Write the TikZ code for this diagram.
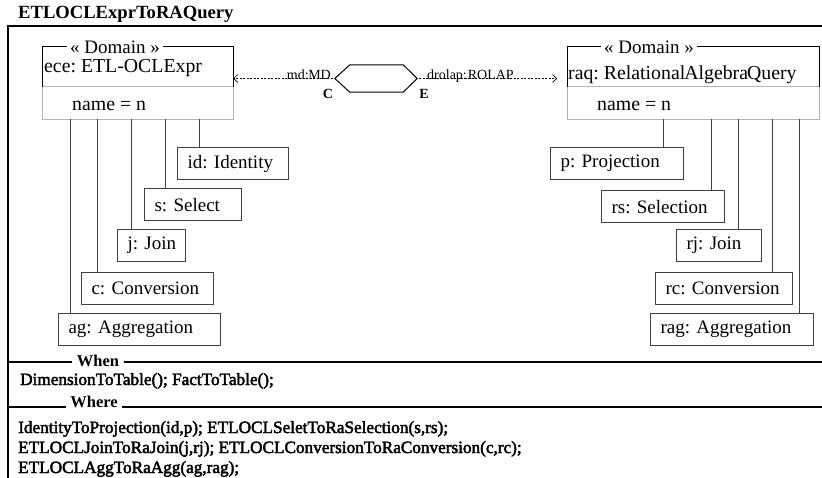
\documentclass[tikz,border=0pt]{standalone}
\usepackage{fontspec}
\setmainfont{Liberation Serif}
\newfontfamily\heavyfont[FakeBold=2.5]{Liberation Serif}
\usetikzlibrary{arrows.meta,calc}
\definecolor{boxgray}{HTML}{404040}
\definecolor{lgray}{HTML}{B4B4B4}
\newcommand\bxfont{\fontsize{19}{22}\selectfont}
\newcommand\dmfont{\fontsize{19.8}{22}\selectfont}
\newcommand\smfont{\fontsize{14}{16}\selectfont}
\newcommand\btfont{\heavyfont\fontsize{17.2}{20}\selectfont}
\newcommand\hdfont{\fontsize{16.5}{19}\selectfont\bfseries}
\begin{document}
\frenchspacing
\begin{tikzpicture}[x=1pt,y=-1pt,
  cbox/.style={draw=boxgray, line width=1.1pt, inner xsep=10pt, inner ysep=0pt,
    minimum height=32pt, align=left, anchor=north west, font=\bxfont},
  conn/.style={draw=boxgray, line width=1pt},
  frame/.style={draw=black, line width=1.2pt},
  dbox/.style={inner sep=0pt},
  darrow/.style={draw=black, line width=0.6pt, dash pattern=on 2pt off 1.5pt,
    -{Straight Barb[length=4pt,width=8pt]}},
  txt/.style={inner sep=0pt, font=\dmfont},
  stereo/.style={fill=white, inner xsep=3pt, inner ysep=0pt, font=\bxfont}
]
\useasboundingbox (0,0) rectangle (822,478);

% title and frame
\node[anchor=base west, inner sep=0pt, font=\fontsize{18.6}{20}\selectfont\bfseries] (title) at (18,19) {ETLOCLExprToRAQuery};
\draw[frame] (822,26) -- (8,26) -- (8,478);

% left domain box
\node[dbox, minimum width=191pt, minimum height=72pt, anchor=north west] (ece) at (42,47) {};
\draw[draw=lgray, line width=1pt] ([yshift=-40pt]ece.north west) -- ([yshift=-40pt]ece.north east) -- (ece.south east) -- (ece.south west) -- cycle;
\draw[draw=black, line width=1pt] ([yshift=-40pt]ece.north west) -- (ece.north west) -- (ece.north east) -- ([yshift=-40pt]ece.north east);
\node[stereo] (ecest) at (115,47) {« Domain »};
\node[txt, anchor=west] (ecename) at (44,68) {ece: ETL-OCLExpr};
\node[txt, anchor=west] (eceattr) at (72,106) {name = n};

% right domain box
\node[dbox, minimum width=252pt, minimum height=72pt, anchor=north west] (raq) at (567,47) {};
\draw[draw=lgray, line width=1pt] ([yshift=-40pt]raq.north west) -- ([yshift=-40pt]raq.north east) -- (raq.south east) -- (raq.south west) -- cycle;
\draw[draw=black, line width=1pt] ([yshift=-40pt]raq.north west) -- (raq.north west) -- (raq.north east) -- ([yshift=-40pt]raq.north east);
\node[stereo] (raqst) at (649,47) {« Domain »};
\node[txt, anchor=west] (raqname) at (568,75) {raq: Relational\kern-1pt Algebra\kern-1pt Query};
\node[txt, anchor=west] (raqattr) at (597,106) {name = n};

% hexagon
\node[inner sep=0pt, minimum width=82pt, minimum height=27pt] (hex) at (376,78.5) {};
\draw[black, line width=1pt] (hex.west) -- ([xshift=15pt]hex.north west) -- ([xshift=-14pt]hex.north east)
  -- (hex.east) -- ([xshift=-14pt]hex.south east) -- ([xshift=15pt]hex.south west) -- cycle;
\node[font=\smfont\bfseries, inner sep=0pt] (cl) at (328,94) {C};
\node[font=\smfont\bfseries, inner sep=0pt] (el) at (424,94) {E};

% dashed arrows
\draw[darrow] ([xshift=-2pt]hex.west) -- (ece.east |- hex.west);
\draw[darrow] ([xshift=2pt]hex.east) -- ([xshift=-10pt]raq.west |- hex.east);
\node[font=\smfont, inner sep=0pt, anchor=base east] (mdl) at (331,80) {md:\kern-0.5pt MD};
\node[font=\smfont, inner sep=0pt, anchor=base west] (drl) at (427,80) {drolap:\kern1pt ROLAP};

% left children
\node[cbox, text width=91pt] (id) at (177,147) {\mbox{id: Identity}};
\node[cbox, text width=77pt] (s) at (144,188) {\mbox{s: Select}};
\node[cbox, text width=48pt] (j) at (117,229) {\mbox{j: Join}};
\node[cbox, text width=112pt] (c) at (81,272) {\mbox{c: Conversion}};
\node[cbox, text width=142pt] (ag) at (58,313) {\mbox{ag: Aggregation}};

\draw[conn] ([xshift=22pt]id.north west) -- ([xshift=22pt]id.north west |- ece.south);
\draw[conn] ([xshift=21pt]s.north west) -- ([xshift=21pt]s.north west |- ece.south);
\draw[conn] ([xshift=14pt]j.north west) -- ([xshift=14pt]j.north west |- ece.south);
\draw[conn] ([xshift=16pt]c.north west) -- ([xshift=16pt]c.north west |- ece.south);
\draw[conn] ([xshift=12pt]ag.north west) -- ([xshift=12pt]ag.north west |- ece.south);

% right children
\node[cbox, text width=113pt] (p) at (550,147) {\mbox{p: Projection}};
\node[cbox, text width=103pt] (rs) at (601,190) {\mbox{rs: Selection}};
\node[cbox, text width=65pt] (rj) at (676,229) {\mbox{rj: Join}};
\node[cbox, text width=117pt] (rc) at (655,272) {\mbox{rc: Conversion}};
\node[cbox, text width=143pt] (rag) at (650,313) {\mbox{rag: Aggregation}};

\draw[conn] ([xshift=113pt]p.north west) -- ([xshift=113pt]p.north west |- raq.south);
\draw[conn] ([xshift=110pt]rs.north west) -- ([xshift=110pt]rs.north west |- raq.south);
\draw[conn] ([xshift=62pt]rj.north west) -- ([xshift=62pt]rj.north west |- raq.south);
\draw[conn] ([xshift=117pt]rc.north west) -- ([xshift=117pt]rc.north west |- raq.south);
\draw[conn] ([xshift=149pt]rag.north west) -- ([xshift=149pt]rag.north west |- raq.south);

% When / Where
\draw[frame] (8,362) -- (822,362);
\node[fill=white, inner xsep=5pt, inner ysep=0pt, font=\hdfont] (when) at (98,361) {When};
\node[anchor=base west, inner sep=0pt, font=\btfont] (whenrules) at (20,385) {DimensionToTable(); FactToTable();};
\draw[frame] (8,407) -- (822,407);
\node[fill=white, inner xsep=4pt, inner ysep=1pt, font=\hdfont, anchor=base] (where) at (94,407) {Where};
\node[anchor=base west, inner sep=0pt, font=\btfont] (w1) at (18,433) {IdentityToProjection(id,p); ETLOCLSeletToRaSelection(s,rs);};
\node[anchor=base west, inner sep=0pt, font=\btfont] (w2) at (18,453) {ETLOCLJoinToRaJoin(j,rj); ETLOCLConversionToRaConversion(c,rc);};
\node[anchor=base west, inner sep=0pt, font=\btfont] (w3) at (18,473) {ETLOCLAggToRaAgg(ag,rag);};
\end{tikzpicture}
\end{document}
